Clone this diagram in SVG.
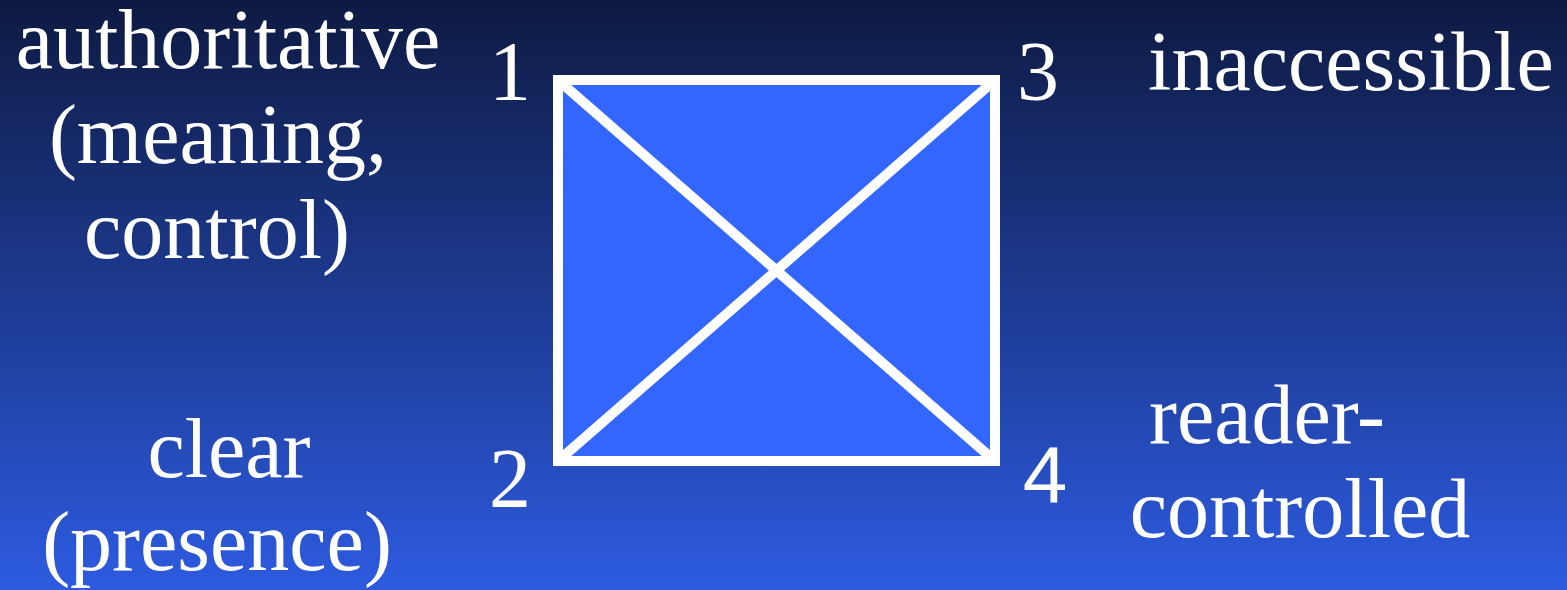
<svg xmlns="http://www.w3.org/2000/svg" width="1567" height="590" viewBox="0 0 1567 590">
<defs>
<linearGradient id="bg" x1="0" y1="0" x2="0" y2="1">
<stop offset="0" stop-color="#0e1a42"/>
<stop offset="1" stop-color="#2d5be0"/>
</linearGradient>
</defs>
<style>
.t{font-family:"Liberation Serif","Times New Roman",serif;font-size:84px;fill:#ffffff;text-anchor:middle}
.s{font-family:"Liberation Sans",Arial,sans-serif;font-size:80px;fill:#ffffff;text-anchor:middle}
.e{stroke:#ffffff;stroke-width:10;fill:none}
</style>
<rect x="0" y="0" width="1567" height="590" fill="url(#bg)"/>
<g id="square">
<rect x="558" y="80" width="437" height="381" fill="#3366ff" stroke="#ffffff" stroke-width="10"/>
</g>
<g id="connectors">
<line class="e" x1="558" y1="80" x2="995" y2="461"/>
<line class="e" x1="558" y1="461" x2="995" y2="80"/>
</g>
<g id="node1"><text class="t" x="510" y="100">1</text></g>
<g id="node2"><text class="t" x="510" y="507">2</text></g>
<g id="node3"><text class="t" x="1038" y="100">3</text></g>
<g id="node4"><text class="s" x="1045" y="502">4</text></g>
<g id="label-authoritative">
<text class="t" x="228" y="68">authoritative</text>
<text class="t" x="218" y="163">(meaning,</text>
<text class="t" x="217" y="258">control)</text>
</g>
<g id="label-clear">
<text class="t" x="229" y="477">clear</text>
<text class="t" x="217" y="570">(presence)</text>
</g>
<g id="label-inaccessible">
<text class="t" x="1351" y="90">inaccessible</text>
</g>
<g id="label-reader">
<text class="t" x="1267" y="443">reader-</text>
<text class="t" x="1300" y="537">controlled</text>
</g>
</svg>
